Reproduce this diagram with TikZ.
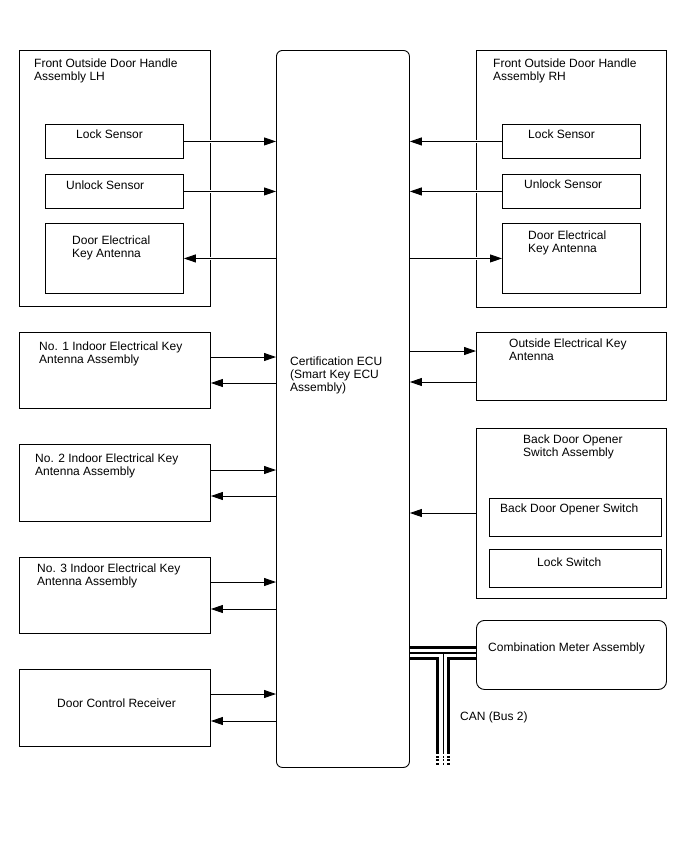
\documentclass[tikz,border=0pt]{standalone}
\usepackage{fontspec}
\setmainfont{Liberation Sans}
\usetikzlibrary{arrows.meta}
\usetikzlibrary{positioning}
\tikzstyle{blk}=[rectangle,draw=black,line width=0.9pt,inner sep=0pt,anchor=north west]
\tikzstyle{lbl}=[anchor=base west,align=left,inner sep=0pt,font=\fontsize{12}{13.3}\selectfont]
\tikzstyle{arr}=[-{Triangle[length=12pt,width=8pt]},draw=black,line width=0.9pt,preaction={-,draw=white,line width=3pt,shorten <=5pt,shorten >=5pt}]

\begin{document}
\begin{tikzpicture}[x=1pt,y=-1pt]
    \useasboundingbox (0,0) rectangle (688,852);
    % ECU (labels sit on the baseline of their last line)
    \node[blk,rounded corners=6pt,minimum width=133pt,minimum height=717pt] (ecu) at (276,50) {};
    \node[lbl] (ecuT) at (290,391.6) {Certification ECU\\(Smart Key ECU\\Assembly)};
    % front door handles
    \node[blk,minimum width=191pt,minimum height=256pt] (lh) at (19,50) {};
    \node[lbl] (lhT) at (34,80.8) {Front Outside Door Handle\\Assembly LH};
    \node[blk,minimum width=138pt,minimum height=34pt] (lhlock) at (45,124) {};
    \node[lbl] (lhlockT) at (76,138) {Lock Sensor};
    \node[blk,minimum width=138pt,minimum height=34pt] (lhunlock) at (45,174) {};
    \node[lbl] (lhunlockT) at (66,189) {Unlock Sensor};
    \node[blk,minimum width=138pt,minimum height=70pt] (lhant) at (45,223) {};
    \node[lbl] (lhantT) at (72,257.3) {Door Electrical\\Key Antenna};
    \node[blk,minimum width=190pt,minimum height=257pt] (rh) at (476,50) {};
    \node[lbl] (rhT) at (493,80.3) {Front Outside Door Handle\\Assembly RH};
    \node[blk,minimum width=138pt,minimum height=34pt] (rhlock) at (502,124) {};
    \node[lbl] (rhlockT) at (528,138) {Lock Sensor};
    \node[blk,minimum width=138pt,minimum height=34pt] (rhunlock) at (502,174) {};
    \node[lbl] (rhunlockT) at (524,188) {Unlock Sensor};
    \node[blk,minimum width=138pt,minimum height=70pt] (rhant) at (502,223) {};
    \node[lbl] (rhantT) at (528,252.3) {Door Electrical\\Key Antenna};
    % indoor antennas and receiver
    \node[blk,minimum width=191pt,minimum height=76pt] (no1) at (19,332) {};
    \node[lbl] (no1T) at (39,363.3) {No. 1 Indoor Electrical Key\\Antenna Assembly};
    \node[blk,minimum width=191pt,minimum height=77pt] (no2) at (19,444) {};
    \node[lbl] (no2T) at (35,475.3) {No. 2 Indoor Electrical Key\\Antenna Assembly};
    \node[blk,minimum width=191pt,minimum height=76pt] (no3) at (19,557) {};
    \node[lbl] (no3T) at (37,585.3) {No. 3 Indoor Electrical Key\\Antenna Assembly};
    \node[blk,minimum width=191pt,minimum height=77pt] (dcr) at (19,669) {};
    \node[lbl] (dcrT) at (57,707) {Door Control Receiver};
    % right side
    \node[blk,minimum width=190pt,minimum height=68pt] (oant) at (476,332) {};
    \node[lbl] (oantT) at (509,360.3) {Outside Electrical Key\\Antenna};
    \node[blk,minimum width=190pt,minimum height=170pt] (bdo) at (476,428) {};
    \node[lbl] (bdoT) at (523,456.3) {Back Door Opener\\Switch Assembly};
    \node[blk,minimum width=172pt,minimum height=38pt] (bdosw) at (489,498) {};
    \node[lbl] (bdoswT) at (500,512) {Back Door Opener Switch};
    \node[blk,minimum width=172pt,minimum height=38pt] (locksw) at (489,549) {};
    \node[lbl] (lockswT) at (537,566) {Lock Switch};
    \node[blk,rounded corners=8pt,minimum width=190pt,minimum height=69pt] (meter) at (476,620) {};
    \node[lbl] (meterT) at (488,651) {Combination Meter Assembly};
    \node[lbl] (canT) at (460,720) {CAN (Bus 2)};
    % signal lines
    \draw[arr] (lhlock.east) -- (lhlock.east -| ecu.west);
    \draw[arr] (lhunlock.east) -- (lhunlock.east -| ecu.west);
    \draw[arr] (lhant.east -| ecu.west) -- (lhant.east);
    \draw[arr] (rhlock.west) -- (rhlock.west -| ecu.east);
    \draw[arr] (rhunlock.west) -- (rhunlock.west -| ecu.east);
    \draw[arr] (rhant.west -| ecu.east) -- (rhant.west);
    \foreach \b/\o/\i in {no1/25/51,no2/26/52,no3/25/52,dcr/25/52}{
        \coordinate (\b o) at ([yshift=-\o pt]\b.north east);
        \coordinate (\b i) at ([yshift=-\i pt]\b.north east);
        \draw[arr] (\b o) -- (\b o -| ecu.west);
        \draw[arr] (\b i -| ecu.west) -- (\b i);
    }
    \coordinate (oanto) at ([yshift=-19pt]oant.north west);
    \coordinate (oanti) at ([yshift=-50pt]oant.north west);
    \draw[arr] (oanto -| ecu.east) -- (oanto);
    \draw[arr] (oanti) -- (oanti -| ecu.east);
    \coordinate (bdoo) at ([yshift=-85pt]bdo.north west);
    \draw[arr] (bdoo) -- (bdoo -| ecu.east);
    % CAN bus
    \coordinate (busL) at ([yshift=-603pt]ecu.north east);
    \coordinate (busR) at (busL -| meter.west);
    \coordinate (busJ) at ([xshift=33.5pt]busL);
    \coordinate (busE) at ([yshift=-99pt]busJ);
    \coordinate (busD) at ([yshift=-13pt]busE);
    \foreach \w/\c in {14pt/black,8pt/white,1.2pt/black}
        \draw[line width=\w,\c] (busL) -- (busR) (busJ) -- (busE);
    \foreach \w/\c in {14pt/black,8pt/white,1.2pt/black}
        \draw[line width=\w,\c,dash pattern=on 2pt off 1.5pt] (busE) -- (busD);
\end{tikzpicture}
\end{document}
